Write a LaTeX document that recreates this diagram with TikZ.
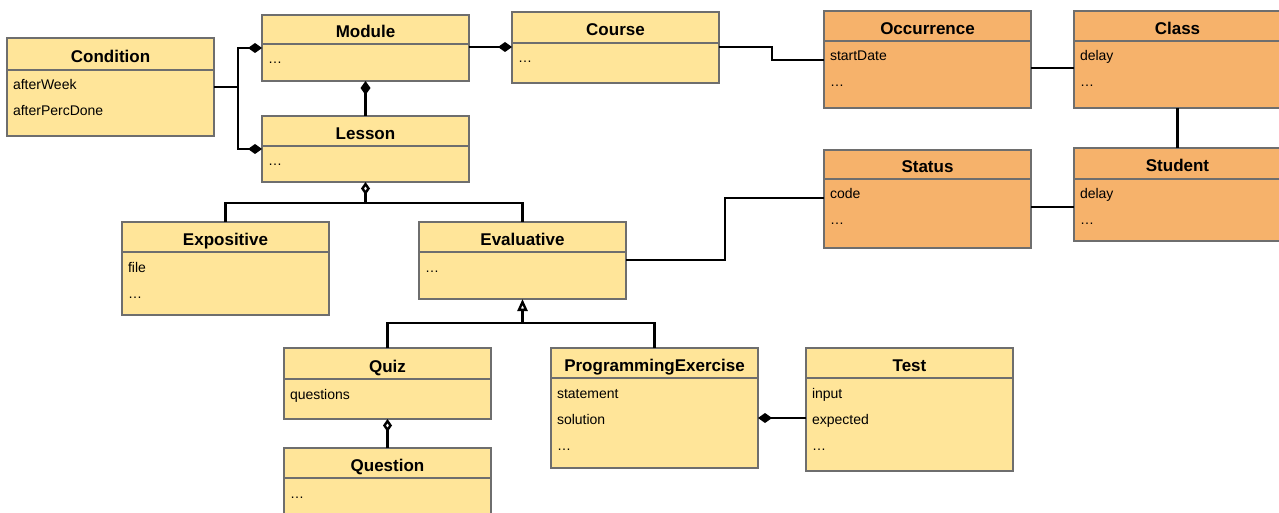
\documentclass[tikz,border=0pt]{standalone}
\usepackage{fontspec}
\setmainfont{Liberation Sans}
\usetikzlibrary{shapes,arrows.meta,positioning}

\definecolor{classyellow}{HTML}{FFE599}
\definecolor{classorange}{HTML}{F6B26B}
\definecolor{classborder}{HTML}{6E6E6E}

\tikzset{
  classhead/.style={draw=classborder, line width=1.3pt, fill=classyellow, rectangle,
    minimum width=207pt, minimum height=30pt, inner sep=0pt, outer sep=0pt,
    text height=17pt, text depth=0pt,
    font=\fontsize{17}{20}\selectfont\bfseries},
  classbody/.style={draw=classborder, line width=1.3pt, fill=classyellow, rectangle,
    text width=195pt, inner xsep=6pt, inner ysep=0pt, outer sep=0pt, align=left,
    text height=20pt, text depth=#1, font=\fontsize{14}{26}\selectfont},
  orangefill/.style={fill=classorange},
  link/.style={line width=2.4pt, black},
  comp/.style={link, -{Diamond[length=14pt,width=10pt]}},
  aggr/.style={link, -{Diamond[open,length=13pt,width=9pt]}},
  gen/.style={link, -{Triangle[open,length=12pt,width=10pt]}},
}

\begin{document}
\begin{tikzpicture}[x=1pt, y=1pt]
        \useasboundingbox (0,0) rectangle (1279,-513);

        % Classes
        \node [classhead, anchor=north west, minimum height=32pt] (condition) at (7,-38) {Condition};
        \node [classbody=46pt, below=0pt of condition] (condition body) {afterWeek\\afterPercDone};

        \node [classhead, anchor=north west, minimum height=29pt] (module) at (262,-15) {Module};
        \node [classbody=17pt, below=0pt of module] (module body) {…};

        \node [classhead, below=35pt of module body] (lesson) {Lesson};
        \node [classbody=16pt, below=0pt of lesson] (lesson body) {…};

        \node [classhead, anchor=north west, minimum height=31pt] (course) at (512,-12) {Course};
        \node [classbody=20pt, below=0pt of course] (course body) {…};

        \node [classhead, orangefill, anchor=north west] (occurrence) at (824,-11) {Occurrence};
        \node [classbody=47pt, orangefill, below=0pt of occurrence] (occurrence body) {startDate\\…};

        \node [classhead, orangefill, right=43pt of occurrence] (class) {Class};
        \node [classbody=47pt, orangefill, below=0pt of class] (class body) {delay\\…};

        \node [classhead, orangefill, minimum height=29pt, below=42pt of occurrence body] (status) {Status};
        \node [classbody=49pt, orangefill, below=0pt of status] (status body) {code\\…};

        \node [classhead, orangefill, minimum height=31pt, below=40pt of class body] (student) {Student};
        \node [classbody=42pt, orangefill, below=0pt of student] (student body) {delay\\…};

        \node [classhead, anchor=north west] (expositive) at (122,-222) {Expositive};
        \node [classbody=43pt, below=0pt of expositive] (expositive body) {file\\…};

        \node [classhead, right=90pt of expositive] (evaluative) {Evaluative};
        \node [classbody=27pt, below=0pt of evaluative] (evaluative body) {…};

        \node [classhead, anchor=north west, minimum height=31pt] (quiz) at (284,-348) {Quiz};
        \node [classbody=20pt, below=0pt of quiz] (quiz body) {questions};

        \node [classhead, below=29pt of quiz body] (question) {Question};
        \node [classbody=27pt, below=0pt of question] (question body) {…};

        \node [classhead, anchor=north west] (pe) at (551,-348) {ProgrammingExercise};
        \node [classbody=70pt, below=0pt of pe] (pe body) {statement\\solution\\…};

        \node [classhead, right=48pt of pe] (test) {Test};
        \node [classbody=73pt, below=0pt of test] (test body) {input\\expected\\…};

        % Pontos de ligacao
        \coordinate (condjoin) at (238,-87);
        \coordinate (modout) at ([yshift=-3pt]module body.north east);
        \coordinate (courseout) at ([yshift=-4pt]course body.north east);
        \coordinate (occin) at ([yshift=-19pt]occurrence body.north west);
        \coordinate (occout) at ([yshift=-27pt]occurrence body.north east);
        \coordinate (statusout) at ([yshift=-28pt]status body.north east);
        \coordinate (evalout) at ([yshift=-8pt]evaluative body.north east);
        \coordinate (statusin) at ([yshift=-19pt]status body.north west);
        \coordinate (lessjoin) at ([yshift=-21pt]lesson body.south);
        \coordinate (evaljoin) at ([yshift=-24pt]evaluative body.south);
        \coordinate (testin) at ([yshift=-40pt]test body.north west);

        % Conexoes
        \draw [link] (condition body.east |- condjoin) -- (condjoin);
        \draw [comp] (condjoin) |- ([yshift=-4pt]module body.north west);
        \draw [comp] (condjoin) |- ([yshift=-3pt]lesson body.north west);
        \draw [comp] (lesson.north) -- (module body.south);
        \draw [comp] (modout) -- (modout -| course.west);
        \draw [link] (courseout) -- ++(53,0) |- (occin);
        \draw [link] (occout) -- (occout -| class body.west);
        \draw [link] (class body.south) -- (student.north);
        \draw [link] (statusout) -- (statusout -| student body.west);
        \draw [link] (evalout) -- ++(99,0) |- (statusin);
        \draw [aggr] (lessjoin) -- (lesson body.south);
        \draw [link] (expositive.north) |- (lessjoin) -| (evaluative.north);
        \draw [gen] (evaljoin) -- (evaluative body.south);
        \draw [link] (quiz.north) |- (evaljoin) -| (pe.north);
        \draw [aggr] (question.north) -- (quiz body.south);
        \draw [comp] (testin) -- (testin -| pe body.east);

    \end{tikzpicture}
\end{document}
